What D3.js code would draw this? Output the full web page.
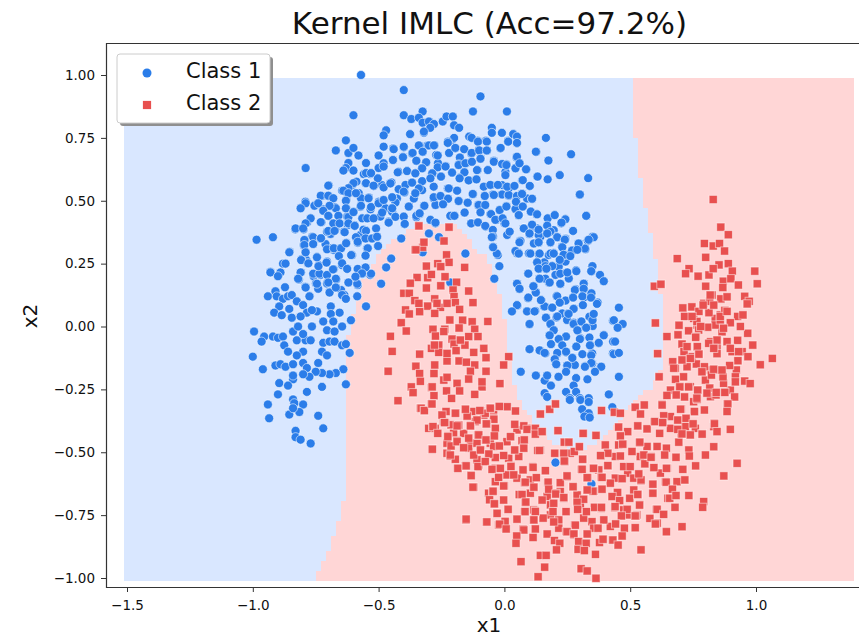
<!DOCTYPE html>
<html>
<head>
<meta charset="utf-8">
<script src="https://cdn.jsdelivr.net/npm/d3@7"></script>
<style>
  body { margin: 0; background: #fff; overflow: hidden; }
  svg { display: block; font-family: "DejaVu Sans", sans-serif; }
</style>
</head>
<body>
<div id="chart"></div>
<script>
"use strict";

const xTicks = [-1.5, -1.0, -0.5, 0.0, 0.5, 1.0];
const yTicks = [-1.0, -0.75, -0.5, -0.25, 0.0, 0.25, 0.5, 0.75, 1.0];
const classNames = ["Class 1", "Class 2"];

// edge of the class 1 area
const class1Boundary = [[-1.53,1.01],[0.51,1.01],[0.51,0.75],[0.53,0.75],[0.53,0.59],[0.55,0.59],[0.55,0.47],[0.57,0.47],[0.57,0.37],[0.59,0.37],[0.59,0.27],[0.61,0.27],[0.61,0.13],[0.63,0.13],[0.63,-0.17],[0.61,-0.17],[0.61,-0.21],[0.59,-0.21],[0.59,-0.25],[0.57,-0.25],[0.55,-0.27],[0.51,-0.29],[0.47,-0.35],[0.43,-0.41],[0.39,-0.45],[0.31,-0.49],[0.19,-0.47],[0.15,-0.41],[0.11,-0.37],[0.07,-0.31],[0.05,-0.27],[0.03,-0.17],[0.01,-0.05],[-0.01,0.11],[-0.03,0.15],[-0.07,0.27],[-0.13,0.33],[-0.17,0.39],[-0.22,0.41],[-0.35,0.41],[-0.39,0.37],[-0.45,0.35],[-0.49,0.29],[-0.51,0.27],[-0.55,0.21],[-0.57,0.15],[-0.59,0.11],[-0.61,-0.01],[-0.63,-0.07],[-0.63,-0.65],[-0.65,-0.75],[-0.67,-0.81],[-0.69,-0.87],[-0.71,-0.91],[-0.73,-0.95],[-0.75,-0.99],[-0.77,-1.03],[-1.53,-1.03]];

const class1Points = [
[-0.57,1.0],[-0.6,0.84],[-0.63,0.74],[-0.67,0.7],[-0.62,0.69],[-0.6,0.71],[-0.58,0.68],[-0.79,0.63],[-0.62,0.65],[-0.63,0.63],[-0.64,0.62],[-0.6,0.62],[-0.55,0.65],[-0.5,0.68],[-0.5,0.63],[-0.55,0.61],[-0.53,0.61],[-0.7,0.56],[-0.6,0.57],[-0.62,0.55],[-0.64,0.54],[-0.55,0.57],[-0.52,0.56],[-0.73,0.52],[-0.7,0.52],[-0.68,0.51],[-0.62,0.53],[-0.57,0.51],[-0.54,0.51],[-0.59,0.53],[-0.79,0.49],[-0.81,0.47],[-0.755,0.48],[-0.74,0.49],[-0.63,0.5],[-0.63,0.47],[-0.67,0.47],[-0.695,0.48],[-0.57,0.48],[-0.53,0.475],[-0.5,0.49],[-0.72,0.46],[-0.7,0.44],[-0.66,0.44],[-0.62,0.435],[-0.6,0.455],[-0.565,0.43],[-0.545,0.43],[-0.52,0.43],[-0.77,0.43],[-0.79,0.41],[-0.83,0.39],[-0.8,0.39],[-0.73,0.415],[-0.68,0.41],[-0.655,0.41],[-0.62,0.41],[-0.595,0.4],[-0.56,0.385],[-0.51,0.39],[-0.76,0.355],[-0.73,0.35],[-0.7,0.38],[-0.675,0.38],[-0.635,0.375],[-0.59,0.355],[-0.55,0.38],[-0.985,0.345],[-0.92,0.355],
[-0.4,0.94],[-0.095,0.915],[-0.4,0.84],[-0.325,0.855],[-0.37,0.825],[-0.34,0.83],[-0.325,0.81],[-0.3,0.815],[-0.28,0.805],[-0.295,0.79],[-0.47,0.78],[-0.48,0.76],[-0.375,0.765],[-0.32,0.775],[-0.245,0.815],[-0.23,0.835],[-0.205,0.835],[-0.2,0.8],[-0.18,0.79],[-0.125,0.855],[0.01,0.855],[-0.05,0.79],[-0.05,0.77],[-0.01,0.77],[0.035,0.765],[0.05,0.755],[0.165,0.75],[0.015,0.735],[0.05,0.73],[-0.14,0.755],[-0.13,0.75],[-0.105,0.735],[-0.07,0.735],[-0.2,0.75],[-0.225,0.735],[-0.225,0.73],[-0.48,0.715],[-0.44,0.705],[-0.4,0.715],[-0.34,0.72],[-0.3,0.72],[-0.28,0.72],[-0.365,0.69],[-0.325,0.695],[-0.265,0.68],[-0.22,0.69],[-0.195,0.71],[-0.16,0.705],[-0.13,0.69],[-0.1,0.7],[-0.07,0.7],[-0.015,0.71],[0.125,0.695],[0.265,0.685],[0.175,0.66],[0.05,0.675],
[-0.48,0.649],[-0.48,0.636],[-0.443,0.662],[-0.403,0.673],[-0.35,0.659],[-0.311,0.653],[-0.327,0.629],[-0.387,0.618],[-0.424,0.613],[-0.354,0.609],[-0.265,0.633],[-0.234,0.636],[-0.208,0.612],[-0.182,0.642],[-0.155,0.649],[-0.129,0.655],[-0.095,0.667],[-0.042,0.655],[-0.009,0.646],[0.008,0.642],[0.044,0.629],[0.06,0.649],[0.086,0.625],[-0.066,0.622],[-0.109,0.622],[-0.159,0.613],[-0.287,0.609],[-0.252,0.596],[-0.178,0.589],[-0.142,0.581],[-0.111,0.585],[-0.056,0.563],[-0.026,0.563],[0.004,0.602],[0.073,0.582],[0.132,0.596],[0.172,0.585],[0.22,0.602],[0.333,0.59],[-0.48,0.553],[-0.453,0.569],[-0.42,0.546],[-0.393,0.563],[-0.367,0.572],[-0.327,0.578],[-0.34,0.549],[-0.294,0.589],[-0.221,0.549],[-0.188,0.54],[-0.126,0.527],[-0.078,0.519],[-0.042,0.523],[0.017,0.523],[0.011,0.556],[0.04,0.559],[0.101,0.559],[0.05,0.519],[0.07,0.527],[0.11,0.508],[0.299,0.524],[-0.48,0.503],[-0.446,0.514],[-0.4,0.536],[-0.354,0.53],[-0.318,0.48],[-0.38,0.477],[-0.281,0.514],[-0.254,0.519],[-0.224,0.508],[-0.244,0.486],[-0.182,0.499],[-0.146,0.492],[-0.102,0.483],[-0.076,0.483],[-0.019,0.463],[0.008,0.477],[0.046,0.496],[0.073,0.477],[0.105,0.457],[0.057,0.443],[0.13,0.446],[0.172,0.43],[0.2,0.443],[0.242,0.426],[0.326,0.44],[-0.486,0.453],[-0.446,0.47],[-0.46,0.413],[-0.4,0.437],[-0.396,0.408],[-0.35,0.44],[-0.337,0.45],[-0.294,0.424],[-0.274,0.413],[-0.215,0.44],[-0.199,0.44],[-0.158,0.453],[-0.095,0.454],[-0.053,0.447],[-0.036,0.424],[-0.007,0.43],[0.004,0.41],[-0.132,0.41],[-0.105,0.414],[-0.076,0.4],[-0.046,0.384],[-0.045,0.357],[0.011,0.364],[0.021,0.377],[0.077,0.39],[0.11,0.4],[0.227,0.413],[0.17,0.401],[0.099,0.368],[0.136,0.364],[0.183,0.377],[0.209,0.357],[0.273,0.38],[0.242,0.348],[0.351,0.357],[0.331,0.341],[0.295,0.331],[0.322,0.307],[0.136,0.333],[0.064,0.34],[0.05,0.291],[0.097,0.291],[0.136,0.288],[0.176,0.284],[0.196,0.291],[0.229,0.317],[0.269,0.302],[0.242,0.284],[-0.045,0.317],[-0.026,0.284],
[-0.855,0.295],[-0.93,0.215],[-0.89,0.215],[-0.9,0.2],[-0.88,0.25],[-0.87,0.25],[-0.81,0.215],[-0.82,0.19],[-0.91,0.14],[-0.94,0.12],[-0.905,0.12],[-0.88,0.11],[-0.86,0.12],[-0.845,0.125],[-0.895,0.08],[-0.915,0.055],[-0.885,0.045],[-0.855,0.07],[-0.845,0.035],[-0.825,0.1],[-0.8,0.085],[-0.785,0.055],[-0.81,0.04],[-0.79,0.155],[-0.775,0.12],[-0.695,0.135],[-0.74,0.15],[-0.76,0.21],[-0.735,0.21],[-0.705,0.205],[-0.67,0.19],[-0.745,0.17],[-0.7,0.175],[-0.67,0.155],[-0.645,0.125],[-0.62,0.175],[-0.585,0.17],[-0.585,0.12],[-0.63,0.11],[-0.55,0.08],[-0.49,0.17],[-0.53,0.21],[-0.47,0.235],[-0.45,0.27],[-0.61,0.025],[-0.655,0.055],[-0.69,0.08],[-0.69,0.05],[-0.745,0.06],[-0.765,0.065],[-0.72,0.02],[-0.68,0.02],[-0.645,0.0],[-0.765,0.0],[-0.705,-0.015],[-0.675,-0.02],[-0.995,-0.02],[-0.955,-0.04],[-0.965,-0.06],[-0.92,-0.04],[-0.9,-0.045],[-0.88,-0.04],[-0.84,-0.02],[-0.82,0.0],[-0.825,-0.055],[-0.79,-0.055],[-0.77,-0.055],[-0.8,-0.03],[-0.875,-0.075],[-0.86,-0.1],[-0.8,-0.1],[-0.825,-0.115],[-0.72,-0.065],[-0.695,-0.06],[-0.675,-0.06],[-0.645,-0.075],[-0.63,-0.07],[-0.615,-0.105],[-0.725,-0.1],[-0.705,-0.115],[-1.0,-0.12],[-0.96,-0.17],[-0.91,-0.155],[-0.89,-0.15],[-0.87,-0.16],[-0.84,-0.15],[-0.8,-0.145],[-0.785,-0.165],[-0.74,-0.145],[-0.64,-0.17],[-0.67,-0.185],[-0.695,-0.19],[-0.725,-0.185],[-0.75,-0.18],[-0.775,-0.2],[-0.8,-0.19],[-0.84,-0.21],[-0.84,-0.195],[-0.895,-0.225],[-0.86,-0.235],[-0.9,-0.27],[-0.785,-0.26],[-0.725,-0.24],[-0.63,-0.23],[-0.94,-0.31],[-0.84,-0.29],[-0.835,-0.305],[-0.8,-0.31],[-0.855,-0.35],[-0.815,-0.34],[-0.935,-0.365],[-0.74,-0.355],[-0.84,-0.325],[-0.72,-0.405],[-0.83,-0.415],[-0.83,-0.44],[-0.81,-0.45],[-0.77,-0.465],
[-0.795,0.344],[-0.795,0.324],[-0.76,0.328],[-0.729,0.351],[-0.705,0.307],[-0.678,0.311],[-0.649,0.311],[-0.629,0.331],[-0.583,0.337],[-0.552,0.35],[-0.526,0.35],[-0.506,0.357],[-0.502,0.32],[-0.543,0.311],[-0.609,0.284],[-0.552,0.282],[-0.808,0.264],[-0.779,0.251],[-0.739,0.24],[-0.707,0.254],[-0.745,0.275],[-0.681,0.227],[-0.658,0.28],[-0.645,0.251],[-0.625,0.229],[-0.583,0.229],[-0.552,0.235],[-0.566,0.211],[-0.592,0.198],[-0.79,0.295],
[-0.41,0.35],[-0.3,0.37],[-0.26,0.355],[-0.155,0.29],[-0.325,0.295],[-0.215,0.175],[-0.03,0.29],[-0.02,0.24],[-0.04,0.19],[-0.045,0.315],[-0.05,0.355],
[0.3,0.525],[0.325,0.44],[0.355,0.355],[0.335,0.345],[0.32,0.31],[0.295,0.33],[0.29,0.305],[0.38,0.205],[0.395,0.18],[0.35,0.24],[0.345,0.22],[0.315,0.17],[0.28,0.145],[0.315,0.15],[0.455,0.075],[0.435,0.025],[0.47,0.01],[0.45,-0.005],[0.395,-0.035],[0.44,-0.06],[0.375,-0.065],[0.435,-0.11],[0.455,-0.105],[0.455,-0.2],[0.415,-0.27],[0.385,-0.16],[0.36,-0.18],[0.05,0.17],[0.06,0.15],[0.095,0.115],[0.05,0.085],[0.03,0.06],[0.09,0.06],[0.12,0.06],[0.16,0.08],[0.145,0.105],[0.125,0.135],[0.115,0.16],[0.095,0.21],[0.1,0.01],[0.1,-0.09],[0.14,-0.095],[0.16,-0.105],[0.065,-0.18],[0.125,-0.195],[0.16,-0.215],[0.17,-0.195],[0.215,-0.2],[0.285,-0.205],[0.33,-0.21],[0.185,-0.235],[0.275,-0.235],[0.245,-0.26],[0.285,-0.26],[0.335,-0.285],[0.3,-0.285],[0.26,-0.285],[0.16,-0.265],[0.17,-0.28],
[0.11,0.405],[0.077,0.39],[0.1,0.37],[0.136,0.385],[0.17,0.37],[0.21,0.355],[0.24,0.345],[0.06,0.335],[0.117,0.33],[0.136,0.335],[0.183,0.335],[0.23,0.315],[0.044,0.3],[0.057,0.29],[0.103,0.29],[0.14,0.29],[0.183,0.29],[0.196,0.29],[0.235,0.285],[0.262,0.28],[0.13,0.255],[0.163,0.24],[0.19,0.24],[0.22,0.265],[0.136,0.23],[0.167,0.23],[0.222,0.21],[0.25,0.215],[0.286,0.22],[0.163,0.19],[0.14,0.19],[0.18,0.175],[0.222,0.17],[0.21,0.12],[0.22,0.095],[0.273,0.115],[0.31,0.12],[0.344,0.115],[0.368,0.09],[0.312,0.085],[0.275,0.07],[0.19,0.075],[0.21,0.04],[0.165,0.035],[0.255,0.05],[0.183,0.01],[0.275,0.01],[0.306,0.02],[0.325,-0.005],[0.35,0.025],[0.355,0.05],[0.29,-0.015],[0.196,-0.015],[0.18,-0.035],[0.245,-0.04],[0.216,-0.05],[0.3,-0.05],[0.34,-0.075],[0.286,-0.08],[0.185,-0.07],[0.23,-0.075],[0.21,-0.105],[0.245,-0.1],[0.27,-0.125],[0.31,-0.11],[0.345,-0.115],[0.2,-0.13],[0.25,-0.155],[0.206,-0.15],[0.345,-0.145],[0.32,-0.16],[0.245,-0.18],
[0.26,-0.292],[0.302,-0.292],[0.335,-0.3],[0.309,-0.329],[0.335,-0.345],[0.318,-0.358],[0.339,-0.362],[0.429,-0.321],[0.203,-0.541],[0.346,-0.626]
];

// second reading of the crowded parts of the arch
const class1Dense = [
[-0.698,0.562],[-0.727,0.519],[-0.698,0.519],[-0.791,0.496],[-0.808,0.472],[-0.741,0.49],[-0.751,0.483],[-0.692,0.479],[-0.674,0.474],[-0.721,0.466],[-0.771,0.43],[-0.784,0.413],[-0.798,0.386],[-0.831,0.386],[-0.727,0.414],[-0.698,0.439],[-0.658,0.439],[-0.628,0.503],[-0.628,0.47],[-0.625,0.437],[-0.623,0.403],[-0.595,0.403],[-0.599,0.456],[-0.572,0.476],[-0.532,0.466],[-0.546,0.43],[-0.638,0.377],[-0.672,0.386],[-0.691,0.368],[-0.705,0.377],[-0.731,0.35],[-0.764,0.357],[-0.794,0.344],[-0.798,0.324],[-0.76,0.328],[-0.711,0.328],[-0.678,0.304],[-0.685,0.311],[-0.652,0.311],[-0.628,0.333],[-0.583,0.333],[-0.546,0.311],[-0.506,0.357],[-0.503,0.32],[-0.552,0.383],[-0.572,0.364],[-0.605,0.284],[-0.552,0.281],[-0.791,0.297],[-0.787,0.264],[-0.745,0.277],[-0.853,0.297],[-0.87,0.251],[-0.807,0.267],[-0.782,0.251],[-0.738,0.244],[-0.705,0.258],[-0.678,0.228],[-0.645,0.244],[-0.625,0.231],[-0.583,0.228],[-0.808,0.215],[-0.817,0.187],[-0.758,0.2],[-0.731,0.205],[-0.705,0.205],[-0.668,0.187],[-0.749,0.171],[-0.705,0.171],[-0.791,0.158],[-0.619,0.174],[-0.583,0.165],[-0.533,0.205],[-0.565,0.209],[-0.694,0.138],[-0.649,0.145],[-0.636,0.125],[-0.773,0.121],[-0.91,0.138],[-0.872,0.156],[-0.897,0.205],[-0.93,0.218],[-0.645,0.54],[-0.623,0.527],[-0.579,0.53],[-0.539,0.513],[-0.499,0.496],[-0.48,0.503],[-0.44,0.509],[-0.473,0.47],[-0.446,0.456],[-0.427,0.509],[-0.552,0.569],[-0.519,0.558],[-0.486,0.562],[-0.453,0.569],[-0.605,0.562],[-0.588,0.576],[-0.533,0.606],[-0.503,0.589],[-0.559,0.606],[-0.493,0.437],[-0.46,0.417],
[-0.374,0.764],[-0.32,0.77],[-0.225,0.731],[-0.208,0.741],[-0.135,0.752],[-0.106,0.739],[-0.073,0.739],[-0.016,0.708],[0.015,0.739],[0.037,0.765],[0.05,0.728],[0.127,0.695],[-0.442,0.708],[-0.4,0.712],[-0.34,0.719],[-0.307,0.719],[-0.278,0.721],[-0.367,0.688],[-0.324,0.695],[-0.403,0.675],[-0.442,0.662],[-0.35,0.659],[-0.311,0.652],[-0.271,0.682],[-0.195,0.708],[-0.159,0.705],[-0.132,0.688],[-0.102,0.702],[-0.069,0.699],[-0.177,0.672],[-0.152,0.649],[-0.181,0.645],[-0.234,0.638],[-0.264,0.649],[-0.095,0.668],[-0.042,0.659],[0.008,0.645],[0.048,0.672],[0.061,0.649],[0.088,0.625],[0.13,0.596],[-0.42,0.615],[-0.387,0.619],[-0.354,0.609],[-0.327,0.629],[-0.283,0.609],[-0.252,0.596],[-0.208,0.611],[-0.159,0.615],[-0.106,0.622],[-0.066,0.622],[0.004,0.615],[0.044,0.629],[-0.177,0.592],[-0.142,0.582],[-0.111,0.585],[-0.327,0.578],[-0.367,0.573],[-0.393,0.562],[-0.42,0.546],[-0.449,0.573],[-0.397,0.533],[-0.354,0.529],[-0.327,0.542],[-0.281,0.556],[-0.225,0.549],[-0.188,0.54],[-0.124,0.527],[-0.082,0.556],[-0.053,0.562],[-0.009,0.562],[0.017,0.549],[0.07,0.582],[0.101,0.558],[-0.045,0.525],[-0.009,0.525],[0.017,0.52],[0.07,0.529],[-0.446,0.512],[-0.433,0.493],[-0.36,0.509],[-0.32,0.479],[-0.281,0.509],[-0.274,0.483],[-0.244,0.487],[-0.225,0.509],[-0.181,0.499],[-0.146,0.493],[-0.105,0.483],[-0.078,0.483],[-0.078,0.52],[0.047,0.496],[0.09,0.509],[0.11,0.507],[0.07,0.476],[0.008,0.479],[-0.018,0.463],[-0.38,0.476],[-0.446,0.47],[-0.336,0.447],[-0.35,0.434],[-0.4,0.436],[-0.433,0.436],[-0.397,0.407],[-0.294,0.423],[-0.274,0.41],[-0.197,0.44],[-0.159,0.452],[-0.095,0.454],[-0.056,0.447],[0.044,0.467],[0.104,0.456],[0.127,0.446],[0.057,0.44],[-0.033,0.423],[0.0,0.41],[-0.132,0.41],[-0.105,0.414],[-0.075,0.397],[0.11,0.401],
[0.057,0.443],[0.129,0.447],[0.2,0.443],[0.243,0.427],[0.326,0.439],[0.226,0.41],[0.077,0.39],[0.11,0.401],[0.1,0.368],[0.13,0.39],[0.17,0.37],[0.143,0.357],[0.196,0.383],[0.272,0.38],[0.351,0.357],[0.243,0.35],[0.061,0.34],[0.137,0.333],[0.183,0.333],[0.21,0.354],[0.296,0.33],[0.333,0.341],[0.23,0.317],[0.322,0.307],[0.057,0.293],[0.104,0.291],[0.139,0.288],[0.196,0.293],[0.239,0.284],[0.269,0.297],[0.18,0.287],[0.13,0.255],[0.159,0.255],[0.19,0.242],[0.216,0.238],[0.243,0.258],[0.166,0.228],[0.137,0.228],[0.094,0.211],[0.203,0.205],[0.249,0.214],[0.285,0.224],[0.346,0.218],[0.349,0.24],[0.379,0.205],[0.395,0.181],[0.139,0.191],[0.177,0.174],[0.223,0.169],[0.256,0.191],[0.051,0.171],[0.06,0.149],[0.117,0.161],[0.123,0.138],[0.283,0.148],[0.316,0.171],[0.316,0.148],[0.316,0.116],[0.272,0.116],[0.346,0.116],[0.346,0.132],[0.371,0.095],[0.207,0.121],[0.243,0.103],[0.22,0.095],[0.094,0.112],[0.147,0.105],[0.19,0.076],[0.157,0.079],[0.312,0.085],[0.276,0.072],[0.052,0.083],[0.09,0.062],[0.123,0.062],[0.23,0.052],[0.253,0.052],[0.166,0.036],[0.207,0.036],[0.249,0.026],[0.351,0.028],[0.306,0.019],[0.276,0.015],[0.338,0.039],[0.1,0.009],[0.183,0.013],[0.351,0.002],[0.431,0.023],[0.196,-0.014],[0.292,-0.017],[0.322,-0.003],[0.179,-0.036],[0.216,-0.051],[0.245,-0.04],[0.302,-0.047],[0.338,-0.044],[0.395,-0.034],[0.375,-0.067],[0.432,-0.06],[0.186,-0.071],[0.342,-0.074],[0.285,-0.08],[0.245,-0.103],[0.1,-0.09],[0.141,-0.094],[0.163,-0.107],[0.21,-0.109],[0.269,-0.123],[0.349,-0.107],[0.431,-0.107],[0.349,-0.147],[0.206,-0.15],[0.249,-0.156],[0.28,-0.153],[0.322,-0.157],[0.383,-0.16]
];

const class2Points = [
[0.83,0.505],[0.86,0.395],[0.89,0.365],[0.795,0.33],[0.83,0.32],[0.855,0.33],[0.875,0.3],[0.687,0.27],[0.8,0.275],[0.853,0.245],[0.89,0.25],[0.995,0.22],[0.906,0.22],[0.734,0.23],[0.72,0.21],[0.77,0.2],[0.813,0.205],[0.83,0.23],[0.87,0.18],[0.9,0.19],[1.005,0.17],[0.93,0.165],[0.8,0.16],[0.868,0.155],[0.596,0.16],[0.622,0.168],[0.955,0.12],[0.973,0.1],[0.965,0.09],[0.86,0.11],[0.816,0.1],[0.885,0.118],[0.709,0.074],[0.745,0.078],[0.773,0.06],[0.813,0.055],[0.876,0.064],[0.716,0.04],[0.927,0.04],[0.948,0.046],[0.6,0.014],[0.694,0.005],[0.838,0.006],[0.898,0.015],[0.808,-0.003],[0.858,0.026],[0.732,-0.017],[0.765,0.02],[0.646,-0.04],[0.69,-0.033],[0.76,-0.043],[0.967,-0.027],[0.927,-0.055],[0.987,-0.074],[0.706,-0.07],[0.767,-0.08],[0.845,-0.108],[0.609,-0.108],[0.714,-0.1],[0.773,-0.11],[0.905,-0.1],[0.945,-0.1],[0.968,-0.12],[1.065,-0.127],[1.017,-0.152],[0.928,-0.136],[0.669,-0.14],[0.706,-0.133],[0.795,-0.16],[0.895,-0.155],[0.615,-0.2],[0.712,-0.2],[0.68,-0.21],[0.823,-0.193],[0.869,-0.2],[0.918,-0.2],[0.955,-0.217],[0.977,-0.227],[0.918,-0.22],[0.816,-0.245],[0.768,-0.253],[0.697,-0.24],[0.732,-0.24],[0.842,-0.262],[0.876,-0.262],[0.915,-0.28],[0.646,-0.274],[0.683,-0.272],[0.716,-0.28],[0.765,-0.285],[0.805,-0.265],[0.845,-0.054],[0.812,-0.067],[0.885,-0.06],[0.832,-0.087],[0.739,-0.127],[0.832,-0.17],[0.785,-0.18],[0.858,0.04],[0.746,0.04],[0.78,0.0],[0.871,-0.007],[0.898,-0.087],[0.931,-0.1],[0.818,0.125],[0.79,0.085],[0.885,0.06],[0.832,0.085],[0.938,0.0],[0.726,-0.08],[0.673,-0.166],[0.865,-0.173],
[-0.34,0.4],[-0.22,0.395],[-0.355,0.305],[-0.325,0.315],[-0.23,0.285],[-0.32,0.335],[-0.24,0.34],[-0.352,0.305],[-0.22,0.255],[-0.31,0.24],[-0.265,0.25],[-0.253,0.238],[-0.158,0.235],[-0.347,0.195],[-0.305,0.194],[-0.236,0.198],[-0.29,0.207],[-0.374,0.172],[-0.253,0.162],[-0.19,0.176],[-0.31,0.153],[-0.204,0.145],[-0.142,0.141],[-0.4,0.132],[-0.378,0.132],[-0.2,0.119],[-0.356,0.103],[-0.34,0.092],[-0.277,0.11],[-0.305,0.081],[-0.254,0.076],[-0.195,0.095],[-0.125,0.095],[-0.178,0.068],[-0.393,0.066],[-0.378,0.05],[-0.337,0.059],[-0.277,0.052],[-0.217,0.026],[-0.166,0.025],[-0.128,0.019],[-0.066,0.02],[-0.41,0.015],[-0.39,-0.018],[-0.284,-0.011],[-0.237,-0.011],[-0.18,-0.006],[-0.118,-0.011],[-0.453,-0.039],[-0.274,-0.038],[-0.208,-0.05],[-0.142,-0.04],[-0.105,-0.04],[-0.2,-0.07],[-0.157,-0.074],[-0.29,-0.087],[-0.261,-0.074],[-0.446,-0.099],[-0.337,-0.11],[-0.261,-0.103],[-0.192,-0.096],[-0.122,-0.103],[-0.082,-0.087],[-0.073,-0.124],[0.017,-0.12],[-0.352,-0.158],[-0.277,-0.153],[-0.228,-0.137],[-0.18,-0.137],[-0.151,-0.142],[-0.118,-0.153],[-0.462,-0.178],[-0.337,-0.187],[-0.28,-0.187],[-0.135,-0.178],[-0.073,-0.178],[-0.003,-0.153],[-0.334,-0.218],[-0.241,-0.213],[-0.228,-0.202],[-0.142,-0.209],[-0.188,-0.226],[-0.089,-0.24],[-0.018,-0.227],[-0.37,-0.24],[-0.29,-0.243],[-0.23,-0.256],[-0.178,-0.256],[-0.118,-0.27],[-0.363,-0.263],[-0.28,-0.275],[-0.21,-0.286],[-0.423,-0.295],[-0.29,-0.308],[-0.331,-0.325],[-0.318,-0.335],[-0.248,-0.352],[-0.193,-0.344],[-0.154,-0.33],[-0.095,-0.335],[-0.058,-0.325],[-0.022,-0.318],[-0.148,-0.356],[-0.076,-0.345],[-0.042,-0.369],[-0.235,-0.382],[-0.182,-0.392],[-0.285,-0.398],[-0.135,-0.394],[-0.07,-0.388],[-0.109,-0.372],[0.011,-0.319],[-0.089,-0.22],[-0.287,-0.24],[-0.268,0.092],[-0.228,0.092],[-0.241,-0.02],[-0.278,-0.074],[-0.175,-0.054],[-0.228,-0.107],
[-0.318,-0.334],[-0.288,-0.308],[-0.195,-0.345],[-0.155,-0.329],[-0.098,-0.334],[-0.056,-0.325],[-0.02,-0.318],[0.044,-0.336],[0.143,-0.348],[0.18,-0.329],[0.203,-0.308],[0.386,-0.334],[0.437,-0.341],[0.461,-0.345],[0.52,-0.321],[0.541,-0.348],[0.556,-0.312],[0.627,-0.312],[0.7,-0.329],[0.755,-0.338],[0.795,-0.332],[0.888,-0.308],[0.885,-0.338],
[-0.284,-0.398],[-0.238,-0.382],[-0.188,-0.395],[-0.135,-0.395],[-0.072,-0.387],[-0.036,-0.405],[0.041,-0.389],[0.09,-0.409],[0.123,-0.405],[0.213,-0.414],[0.313,-0.425],[0.364,-0.433],[0.454,-0.4],[0.49,-0.418],[0.53,-0.395],[0.567,-0.407],[0.598,-0.378],[0.629,-0.382],[0.689,-0.372],[0.722,-0.365],[0.75,-0.387],[0.835,-0.387],[0.845,-0.418],[0.898,-0.409],
[-0.265,-0.425],[-0.225,-0.438],[-0.188,-0.458],[-0.142,-0.444],[-0.102,-0.431],[-0.073,-0.451],[-0.04,-0.435],[0.024,-0.438],[0.079,-0.451],[0.123,-0.428],[0.15,-0.418],[0.238,-0.46],[0.256,-0.46],[0.461,-0.435],[0.47,-0.468],[0.538,-0.46],[0.617,-0.425],[0.693,-0.46],[0.706,-0.427],[0.739,-0.431],[0.786,-0.428],
[-0.286,-0.488],[-0.215,-0.511],[-0.162,-0.482],[-0.122,-0.511],[-0.095,-0.491],[-0.062,-0.507],[-0.02,-0.475],[-0.003,-0.513],[0.041,-0.491],[0.077,-0.484],[0.139,-0.493],[0.2,-0.504],[0.236,-0.504],[0.298,-0.478],[0.411,-0.504],[0.382,-0.513],[0.507,-0.497],[0.554,-0.511],[0.583,-0.52],[0.644,-0.484],[0.637,-0.511],[0.682,-0.52],[0.733,-0.491],[0.735,-0.515],[0.799,-0.511],[0.832,-0.478],
[-0.185,-0.564],[-0.152,-0.554],[-0.076,-0.537],[-0.049,-0.568],[-0.016,-0.564],[0.026,-0.557],[0.074,-0.57],[0.114,-0.56],[0.163,-0.573],[0.238,-0.535],[0.311,-0.528],[0.309,-0.568],[0.354,-0.564],[0.411,-0.553],[0.474,-0.557],[0.5,-0.557],[0.594,-0.561],[0.644,-0.564],[0.709,-0.568],[0.76,-0.554],[0.925,-0.544],
[-0.132,-0.593],[-0.023,-0.6],[0.037,-0.59],[0.083,-0.619],[0.127,-0.601],[0.174,-0.619],[0.249,-0.594],[0.329,-0.601],[0.388,-0.6],[0.468,-0.605],[0.543,-0.61],[0.534,-0.586],[0.59,-0.627],[0.643,-0.619],[0.686,-0.617],[0.717,-0.61],[0.872,-0.594],
[-0.125,-0.639],[-0.045,-0.655],[-0.003,-0.634],[0.117,-0.639],[0.176,-0.647],[0.273,-0.637],[0.352,-0.655],[0.329,-0.65],[0.388,-0.647],[0.45,-0.66],[0.514,-0.65],[0.59,-0.663],[0.668,-0.647],
[-0.003,-0.69],[0.07,-0.668],[0.15,-0.69],[0.204,-0.666],[0.236,-0.68],[0.315,-0.687],[0.289,-0.699],[0.428,-0.676],[0.458,-0.692],[0.498,-0.683],[0.53,-0.668],[0.657,-0.683],[0.682,-0.672],[0.733,-0.672],
[-0.04,-0.705],[0.085,-0.698],[0.196,-0.703],[0.358,-0.719],[0.386,-0.719],[0.44,-0.716],[0.537,-0.71],[0.792,-0.696],[0.788,-0.719],[0.678,-0.719],
[0.015,-0.727],[-0.029,-0.743],[0.082,-0.736],[0.123,-0.736],[0.245,-0.736],[0.326,-0.736],[0.291,-0.727],[0.488,-0.727],[0.607,-0.727],[0.633,-0.747],
[-0.152,-0.766],[-0.07,-0.777],[0.003,-0.776],[0.05,-0.766],[0.117,-0.769],[0.196,-0.777],[0.395,-0.769],[0.465,-0.753],[0.578,-0.763],[0.52,-0.753],
[-0.019,-0.786],[0.007,-0.805],[0.077,-0.809],[0.123,-0.805],[0.282,-0.79],[0.372,-0.802],[0.442,-0.785],[0.477,-0.802],[0.52,-0.8],[0.6,-0.785],[0.706,-0.796],
[0.049,-0.833],[0.114,-0.839],[0.17,-0.825],[0.249,-0.816],[0.276,-0.825],[0.329,-0.825],[0.468,-0.833],[0.644,-0.816],[0.199,-0.851],
[0.046,-0.862],[0.22,-0.862],[0.295,-0.855],[0.325,-0.862],[0.378,-0.859],[0.392,-0.846],[0.431,-0.849],[0.452,-0.869],
[0.207,-0.888],[0.293,-0.886],[0.318,-0.891],[0.543,-0.888],[0.143,-0.91],[0.166,-0.91],[0.362,-0.906],[0.066,-0.935],[0.16,-0.957],[0.305,-0.963],[0.329,-0.972],[0.134,-0.995],[0.364,-1.001]
];

// second reading of the crowded parts of the lower arc
const class2Dense = [
[-0.232,-0.338],[-0.043,-0.365],[-0.149,-0.356],[-0.182,-0.394],[-0.133,-0.394],[-0.224,-0.435],[-0.189,-0.454],[-0.105,-0.431],[-0.075,-0.451],[-0.039,-0.434],[0.026,-0.438],[0.077,-0.395],[-0.288,-0.488],[-0.212,-0.475],[-0.096,-0.491],[0.07,-0.454],[0.132,-0.493],[-0.215,-0.515],[-0.063,-0.508],[-0.036,-0.521],[-0.195,-0.528],[-0.109,-0.53],[-0.155,-0.554],[-0.186,-0.564],[-0.105,-0.557],[0.027,-0.554],[0.112,-0.557],[-0.133,-0.591],[0.0,-0.633],[0.08,-0.621],[0.116,-0.639],[-0.047,-0.656],[-0.122,-0.639],[0.059,-0.668],[-0.059,-0.689],[-0.039,-0.705],[0.083,-0.699],[0.014,-0.727],[-0.03,-0.743],[0.08,-0.736],[0.123,-0.733],[-0.153,-0.769],[-0.071,-0.778],[0.002,-0.774],[0.116,-0.769],[0.005,-0.802],[0.074,-0.806],
[0.278,-0.497],[0.472,-0.468],[0.537,-0.462],[0.584,-0.517],[0.311,-0.527],[0.24,-0.537],[0.461,-0.515],[0.384,-0.515],[0.355,-0.564],[0.306,-0.568],[0.412,-0.554],[0.558,-0.546],[0.647,-0.564],[0.249,-0.597],[0.163,-0.574],[0.331,-0.601],[0.385,-0.599],[0.543,-0.613],[0.64,-0.617],[0.172,-0.621],[0.222,-0.621],[0.273,-0.637],[0.448,-0.66],[0.53,-0.667],[0.355,-0.654],[0.205,-0.663],[0.236,-0.683],[0.65,-0.683],[0.538,-0.708],[0.359,-0.72],[0.385,-0.723],[0.438,-0.72],[0.193,-0.736],[0.154,-0.762],[0.523,-0.753],[0.604,-0.727],[0.279,-0.789],[0.216,-0.802],[0.246,-0.815],[0.644,-0.815],[0.392,-0.846],[0.43,-0.849],[0.276,-0.825],
[0.861,0.108],[0.865,-0.021],[0.772,-0.014],[0.762,-0.04],[0.766,-0.08],[0.772,-0.109],[0.836,-0.074],[0.763,-0.149],[0.922,-0.173],[0.868,-0.2],[0.871,-0.226],[0.697,-0.239],[0.769,-0.253],[0.841,-0.272],[0.875,-0.262],[0.767,-0.29],[0.626,-0.31],[0.703,-0.328],[0.886,-0.308],[0.756,-0.339],[0.633,-0.355],[0.596,-0.378],[0.629,-0.381],[0.69,-0.372],[0.834,-0.385],[0.703,-0.427],[0.785,-0.427],[0.719,-0.398],[0.689,-0.409]
];

// squares half hidden behind others in the crowded parts
const class2Hidden = [
[0.143,-0.491],[0.262,-0.504],[0.401,-0.471],[0.454,-0.471],[0.567,-0.477],[0.607,-0.477],[0.441,-0.517],[0.54,-0.517],[0.375,-0.57],[0.441,-0.603],[0.49,-0.583],[0.62,-0.583],[0.514,-0.603],[0.289,-0.67],[0.222,-0.656],[0.17,-0.676],[0.183,-0.709],[0.302,-0.709],[0.421,-0.623],[0.474,-0.729],[0.488,-0.749],[0.527,-0.749],[0.348,-0.776],[0.421,-0.795],[0.276,-0.829],[0.355,-0.802],[0.315,-0.762],[0.216,-0.769],[0.183,-0.749],[0.607,-0.782],
[-0.334,-0.325],[-0.301,-0.405],[-0.275,-0.405],[-0.242,-0.378],[-0.212,-0.391],[-0.122,-0.338],[-0.082,-0.352],[-0.043,-0.332],[-0.116,-0.378],[-0.202,-0.425],[-0.162,-0.425],[-0.228,-0.464],[-0.135,-0.464],[-0.056,-0.464],[0.01,-0.458],[0.05,-0.411],[0.09,-0.405],[-0.142,-0.484],[-0.109,-0.464],[-0.043,-0.477],[0.017,-0.524],[0.057,-0.517],[-0.228,-0.504],[-0.102,-0.55],[-0.036,-0.564],[0.01,-0.59],[0.05,-0.603],[-0.036,-0.617],[0.103,-0.61],[0.063,-0.67],[-0.063,-0.663],[0.103,-0.663],[0.116,-0.729],[-0.023,-0.789],
[0.752,0.032],[0.766,0.006],[0.825,0.125],[0.792,0.092],[0.858,0.046],[0.838,0.032],[0.885,-0.06],[0.819,-0.06],[0.845,-0.08],[0.746,-0.12],[0.726,-0.16],[0.679,-0.166],[0.819,-0.173],[0.852,-0.173],[0.799,-0.213],[0.898,-0.253],[0.819,-0.279],[0.739,-0.239],[0.752,-0.299],[0.66,-0.253],[0.66,-0.358],[0.66,-0.405],[0.832,-0.398],[0.759,-0.405]
];

const width = 859, height = 637;
const colors = { class1: "#2b7de9", class2: "#e8504f", area1: "#d9e7ff", area2: "#ffd6d6", spine: "#333" };

const x = d3.scaleLinear().domain([-1.5, 1.0]).range([127, 756]);
const y = d3.scaleLinear().domain([-1.0, 1.0]).range([578, 75]);

const svg = d3.select("#chart").append("svg")
  .attr("width", width)
  .attr("height", height);

// decision area: mesh of 0.02 cells, merged in runs per row
const step = 0.02;
const nCols = 145, nRows = 100;
const xStart = -1.51, yStart = -1.01;

const area = svg.append("g").attr("shape-rendering", "crispEdges");
area.append("rect")
  .attr("x", x(xStart))
  .attr("y", y(yStart + nRows * step))
  .attr("width", x(xStart + nCols * step) - x(xStart))
  .attr("height", y(yStart) - y(yStart + nRows * step))
  .attr("fill", colors.area2);

for (let r = 0; r < nRows; r++) {
  const yy = yStart + r * step;
  let run = null;
  for (let c = 0; c <= nCols; c++) {
    const xx = xStart + c * step;
    const inside = c < nCols && d3.polygonContains(class1Boundary, [xx + step / 2, yy + step / 2]);
    if (inside && run === null) run = xx;
    if (!inside && run !== null) {
      area.append("rect")
        .attr("x", x(run))
        .attr("y", y(yy + step))
        .attr("width", x(xx) - x(run))
        .attr("height", y(yy) - y(yy + step) + 0.5)
        .attr("fill", colors.area1);
      run = null;
    }
  }
}

// points
svg.append("g").selectAll("circle")
  .data(class1Dense.concat(class1Points))
  .join("circle")
    .attr("cx", d => x(d[0]))
    .attr("cy", d => y(d[1]))
    .attr("r", 4.5)
    .attr("fill", colors.class1)
    .attr("stroke", "#fff")
    .attr("stroke-opacity", 0.7)
    .attr("stroke-width", 0.8);

svg.append("g").selectAll("rect")
  .data(class2Hidden.concat(class2Dense, class2Points))
  .join("rect")
    .attr("x", d => x(d[0]) - 4.1)
    .attr("y", d => y(d[1]) - 4.1)
    .attr("width", 8.2)
    .attr("height", 8.2)
    .attr("fill", colors.class2)
    .attr("stroke", "#fff")
    .attr("stroke-opacity", 0.5)
    .attr("stroke-width", 1);

// axes
const unicodeMinus = s => s.replace("-", "\u2212");

const xAxis = svg.append("g")
  .attr("transform", "translate(0,587)")
  .call(d3.axisBottom(x).tickValues(xTicks).tickSize(5).tickPadding(8)
    .tickFormat(d => unicodeMinus(d3.format(".1f")(d))));
const yAxis = svg.append("g")
  .attr("transform", "translate(106,0)")
  .call(d3.axisLeft(y).tickValues(yTicks).tickSize(5).tickPadding(6)
    .tickFormat(d => unicodeMinus(d3.format(".2f")(d))));

[xAxis, yAxis].forEach(a => {
  a.selectAll(".domain").remove();
  a.selectAll("line").attr("stroke", colors.spine).attr("stroke-width", 1);
  a.selectAll("text").attr("fill", "#111").style("font-size", "13.5px").style("font-family", "'DejaVu Sans'");
});

// spines, no right one: the axes run past the edge of the picture
svg.append("path")
  .attr("d", "M859,43.5H106.5V587.5H859")
  .attr("fill", "none")
  .attr("stroke", colors.spine)
  .attr("stroke-width", 1.2);

svg.append("text")
  .attr("x", 489.5).attr("y", 34)
  .attr("text-anchor", "middle")
  .style("font-size", "31px")
  .attr("fill", "#111")
  .text("Kernel IMLC (Acc=97.2%)");

svg.append("text")
  .attr("x", 489).attr("y", 632)
  .attr("text-anchor", "middle")
  .style("font-size", "20px")
  .attr("fill", "#111")
  .text("x1");

svg.append("text")
  .attr("transform", "translate(37,316) rotate(-90)")
  .attr("text-anchor", "middle")
  .style("font-size", "20px")
  .attr("fill", "#111")
  .text("x2");

// legend
const legend = svg.append("g");
legend.append("rect")
  .attr("x", 120).attr("y", 57).attr("width", 153).attr("height", 69).attr("rx", 3)
  .attr("fill", "#8f8f8f");
legend.append("rect")
  .attr("x", 117).attr("y", 54).attr("width", 153).attr("height", 69).attr("rx", 3)
  .attr("fill", "#fff")
  .attr("stroke", "#ccc");

legend.append("circle")
  .attr("cx", 147).attr("cy", 73).attr("r", 4.5)
  .attr("fill", colors.class1);
legend.append("rect")
  .attr("x", 142.9).attr("y", 100.9).attr("width", 8.2).attr("height", 8.2)
  .attr("fill", colors.class2);

legend.selectAll("text")
  .data(classNames)
  .join("text")
    .attr("x", 186)
    .attr("y", (d, i) => 78 + i * 32)
    .style("font-size", "21px")
    .attr("fill", "#111")
    .text(d => d);
</script>
</body>
</html>
